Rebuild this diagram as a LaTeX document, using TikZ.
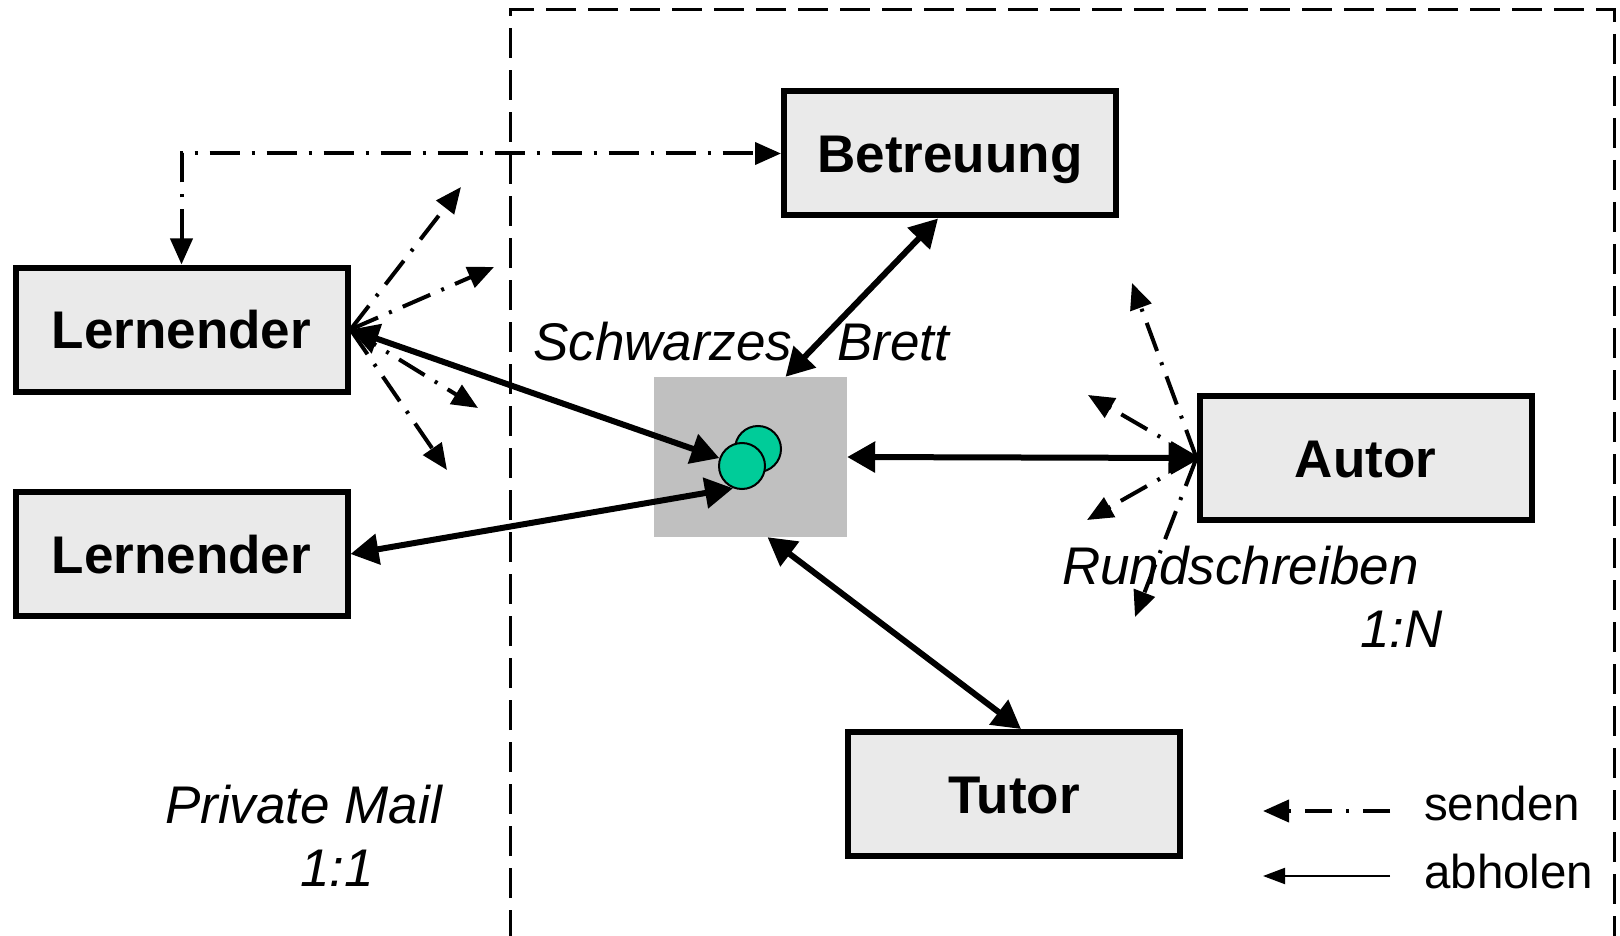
\documentclass[tikz,border=0pt]{standalone}
\usepackage{fontspec}
\setmainfont{Liberation Sans}
\usetikzlibrary{arrows.meta,calc}
\definecolor{boxgray}{HTML}{EAEAEA}
\definecolor{boardgray}{HTML}{C0C0C0}
\definecolor{pingreen}{HTML}{00CC99}
\begin{document}
\begin{tikzpicture}[x=1pt,y=-1pt,
  actor/.style={draw,line width=6pt,fill=boxgray,minimum width=332pt,minimum height=124pt,
    font=\fontsize{53}{60}\selectfont\bfseries,text height=38pt,text depth=0pt,inner sep=0pt},
  lbl/.style={font=\fontsize{53}{60}\selectfont\itshape,anchor=base west,inner sep=0pt},
  leg/.style={font=\fontsize{47.5}{52}\selectfont,anchor=base west,inner sep=0pt},
  pin/.style={circle,draw,line width=2pt,fill=pingreen,minimum size=46pt,inner sep=0pt},
  fetch/.style={line width=6pt,{Triangle[length=28pt,width=30pt]}-{Triangle[length=28pt,width=30pt]}},
  dd/.style={line width=4pt,dash pattern=on 30pt off 12pt on 3pt off 12pt},
  ddtip/.style={dd,-{Triangle[length=26pt,width=22pt]}},
]
\useasboundingbox (0,0) rectangle (1620,936);
% dashed frame
\draw[line width=3pt,dash pattern=on 30pt off 12pt] (510,940) -- (510,10) -- (1614,10) -- (1614,940);

% board
\node[fill=boardgray,minimum width=193pt,minimum height=160pt,inner sep=0pt] (board) at (750.5,457) {};
\node[pin] (pinB) at (758,449) {};
\node[pin] (pinA) at (742,466) {};

% actors
\node[actor] (bet) at (950,153.5) {Betreuung};
\node[actor] (l1) at (181.5,329.5) {Lernender};
\node[actor] (l2) at (181.5,554) {Lernender};
\node[actor] (aut) at (1365.5,458) {Autor};
\node[actor] (tut) at (1014,794) {Tutor};

% labels
\node[lbl] (schw) at (533,360) {Schwarzes};
\node[lbl] (brett) at (837,360) {Brett};
\node[lbl] (rund) at (1062,584) {Rundschreiben};
\node[lbl] (rn) at (1360,647) {1:N};
\node[lbl] (pm) at (165,823) {Private Mail};
\node[lbl] (p11) at (300,886) {1:1};

% solid double arrows
\draw[fetch] ([xshift=-12pt]bet.south) -- ([xshift=35pt]board.north);
\draw[fetch] (l1.east) -- (pinA);
\draw[fetch] (l2.east) -- (pinA.248);
\draw[fetch] (board.east) -- (aut.west);
\draw[fetch] ([xshift=17pt]board.south) -- ([xshift=7pt]tut.north);

% dash-dot Betreuung link
\draw[dd,{Triangle[length=26pt,width=22pt]}-{Triangle[length=26pt,width=22pt]}] (l1.north) |- (bet.west);

% left fan
\coordinate (f1) at (461,187);
\coordinate (f2) at (494,267);
\coordinate (f3) at (478,408);
\coordinate (f4) at (447,470);
\foreach \t in {f1,f2,f3,f4} \draw[ddtip] (l1.east) -- (\t);

% right fan
\coordinate (g1) at (1132,283);
\coordinate (g2) at (1088,395);
\coordinate (g3) at (1087,520);
\coordinate (g4) at (1135,617);
\foreach \t in {g1,g2,g3,g4} \draw[ddtip] (aut.west) -- (\t);

% legend
\node[leg] (sen) at (1424,820) {senden};
\node[leg] (abh) at (1424,888) {abholen};
\coordinate (s1) at (1390,811);
\coordinate (s2) at (1263,811);
\coordinate (a1) at (1390,876);
\coordinate (a2) at (1263,876);
\draw[line width=4pt,dash pattern=on 27pt off 14pt on 3pt off 14pt,-{Triangle[length=26pt,width=22pt]}] (s1) -- (s2);
\draw[line width=2pt,-{Triangle[length=22pt,width=16pt]}] (a1) -- (a2);
\end{tikzpicture}
\end{document}
